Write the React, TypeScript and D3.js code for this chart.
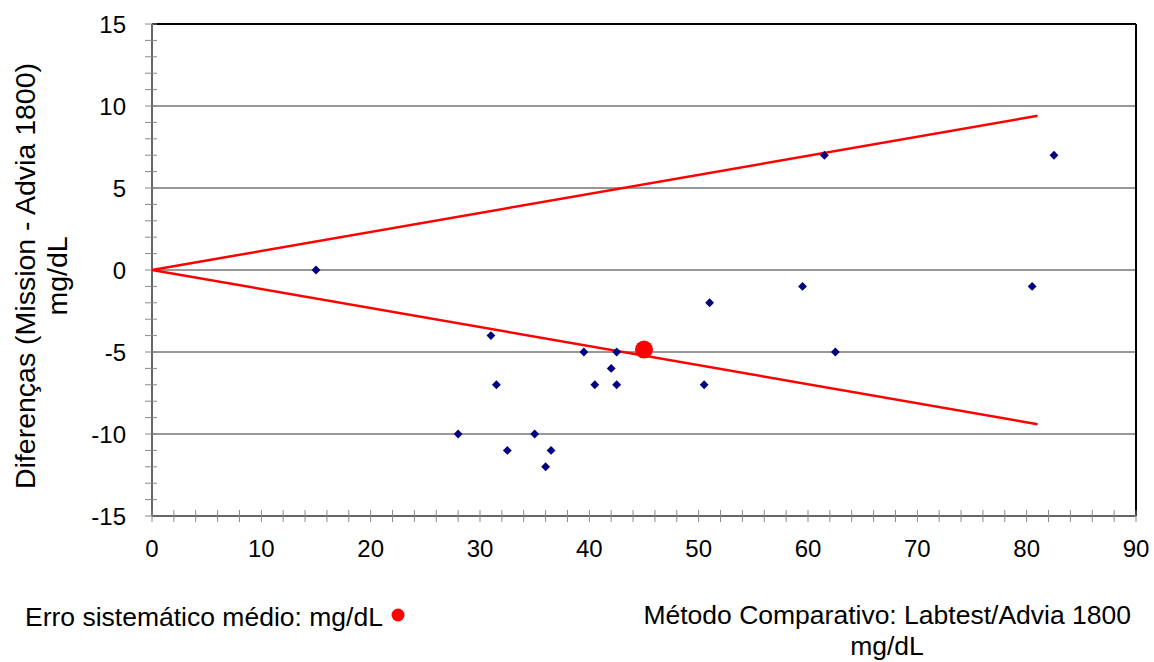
import React from "react";
import * as d3 from "d3";

const xTicks = [0, 10, 20, 30, 40, 50, 60, 70, 80, 90];
const yTicks = [15, 10, 5, 0, -5, -10, -15];
const gridValues = [10, 5, 0, -5, -10];
const pointX = [15, 28, 31, 31.5, 32.5, 35, 36, 36.5, 39.5, 40.5, 42, 42.5, 42.5, 50.5, 51, 59.5, 61.5, 62.5, 80.5, 82.5];
const pointY = [0, -10, -4, -7, -11, -10, -12, -11, -5, -7, -6, -5, -7, -7, -2, -1, 7, -5, -1, 7];
const limitX = [0, 81];
const upperLimit = [0, 9.4];
const lowerLimit = [0, -9.4];
const meanBiasX = [45];
const meanBiasY = [-4.85];

export default function App() {
  const W = 1154, H = 662;
  const left = 152, right = 1136, top = 24, bottom = 516;
  const x = d3.scaleLinear().domain([0, 90]).range([left, right]);
  const y = d3.scaleLinear().domain([-15, 15]).range([bottom, top]);
  const font = "'Liberation Sans', Arial, sans-serif";
  const line = d3.line<[number, number]>().x(d => x(d[0])).y(d => y(d[1]));
  const upper: [number, number][] = limitX.map((v, i) => [v, upperLimit[i]]);
  const lower: [number, number][] = limitX.map((v, i) => [v, lowerLimit[i]]);
  const xMinor = d3.range(0, 90.001, 2);
  const yMinor = d3.range(-15, 15.001, 1);
  const diamond = d3.symbol().type(d3.symbolDiamond2).size(50)();

  return (
    <svg width={W} height={H} style={{ position: "absolute", left: 0, top: 0 }} fontFamily={font}>
      <rect x={0} y={0} width={W} height={H} fill="#fff" />
      {gridValues.map(v => (
        <line key={"g" + v} x1={left} x2={right} y1={y(v)} y2={y(v)} stroke="#333" strokeWidth={1} />
      ))}
      <line x1={left} x2={right} y1={top} y2={top} stroke="#000" strokeWidth={2} />
      <line x1={right} x2={right} y1={top} y2={bottom} stroke="#000" strokeWidth={2} />
      {/* y axis */}
      <line x1={left} x2={left} y1={top} y2={bottom} stroke="#666" strokeWidth={2} />
      {yMinor.map(v => (
        <line key={"ym" + v} x1={left - 7} x2={left + 5} y1={y(v)} y2={y(v)} stroke="#888" strokeWidth={1} />
      ))}
      {/* x axis */}
      <line x1={left} x2={right} y1={bottom} y2={bottom} stroke="#666" strokeWidth={2} />
      {xMinor.map(v => (
        <line key={"xm" + v} x1={x(v)} x2={x(v)} y1={bottom - 6} y2={bottom + 6} stroke="#888" strokeWidth={1} />
      ))}
      {yTicks.map(v => (
        <text key={"yt" + v} x={left - 26} y={y(v)} dy="0.36em" textAnchor="end" fontSize={24} fill="#000">{v}</text>
      ))}
      {xTicks.map(v => (
        <text key={"xt" + v} x={x(v)} y={557} textAnchor="middle" fontSize={24} fill="#000">{v}</text>
      ))}
      <path d={line(upper) || ""} fill="none" stroke="#ff0000" strokeWidth={2.5} />
      <path d={line(lower) || ""} fill="none" stroke="#ff0000" strokeWidth={2.5} />
      {pointX.map((v, i) => (
        <path key={"p" + i} d={diamond || ""} transform={`translate(${x(v)},${y(pointY[i])})`} fill="#000080" />
      ))}
      {meanBiasX.map((v, i) => (
        <circle key={"m" + i} cx={x(v)} cy={y(meanBiasY[i])} r={9} fill="#ff0000" />
      ))}
      <g transform={`translate(35,276) rotate(-90)`}>
        <text x={0} y={0} textAnchor="middle" fontSize={28.5} fill="#000">Diferenças (Mission - Advia 1800)</text>
        <text x={0} y={32} textAnchor="middle" fontSize={28.5} fill="#000">mg/dL</text>
      </g>
      <text x={25} y={626} fontSize={26.5} fill="#000">Erro sistemático médio: mg/dL</text>
      <circle cx={398} cy={615} r={6.5} fill="#ff0000" />
      <text x={1131} y={624} textAnchor="end" fontSize={26.5} fill="#000">Método Comparativo: Labtest/Advia 1800</text>
      <text x={887} y={655} textAnchor="middle" fontSize={26.5} fill="#000">mg/dL</text>
    </svg>
  );
}
